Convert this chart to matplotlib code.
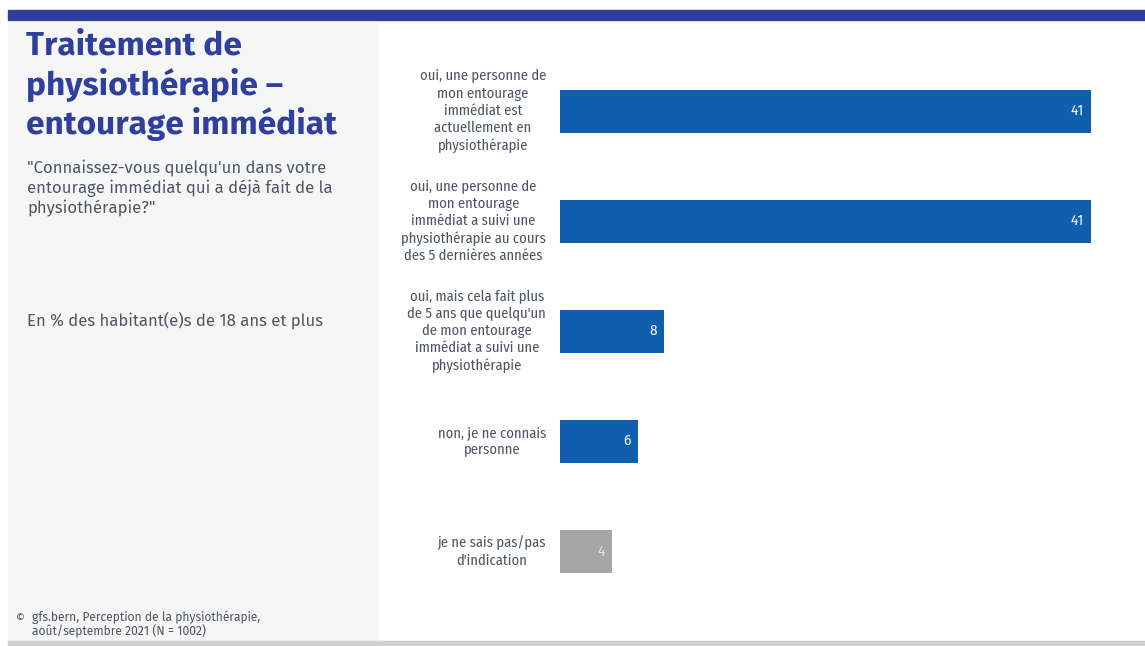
import matplotlib
matplotlib.use("Agg")
import matplotlib.pyplot as plt
from matplotlib import font_manager
from matplotlib.patches import Rectangle

# Survey answers and shares (%)
categories = [
    "oui, une personne de\nmon entourage\nimmédiat est\nactuellement en\nphysiothérapie",
    "oui, une personne de\nmon entourage\nimmédiat a suivi une\nphysiothérapie au cours\ndes 5 dernières années",
    "oui, mais cela fait plus\nde 5 ans que quelqu'un\nde mon entourage\nimmédiat a suivi une\nphysiothérapie",
    "non, je ne connais\npersonne",
    "je ne sais pas/pas\nd'indication",
]
values = [41, 41, 8, 6, 4]
value_labels = ["41", "41", "8", "6", "4"]
is_unknown = [False, False, False, False, True]

title = "Traitement de\nphysiothérapie –\nentourage immédiat"
question = "\"Connaissez-vous quelqu'un dans votre\nentourage immédiat qui a déjà fait de la\nphysiothérapie?\""
base = "En % des habitant(e)s de 18 ans et plus"
source = "gfs.bern, Perception de la physiothérapie,\naoût/septembre 2021 (N = 1002)"

available = {f.name for f in font_manager.fontManager.ttflist}
def pick(*names):
    for n in names:
        if n in available:
            return n
    return "DejaVu Sans"

body_font = pick("Fira Sans", "Noto Sans", "Open Sans", "DejaVu Sans")
narrow_font = pick("Fira Sans Condensed", "Roboto Condensed", "Liberation Sans Narrow", "Noto Sans")
title_font = pick("Fira Sans", "Noto Sans", "Lato", "DejaVu Sans")

W, H = 1145, 646
fig = plt.figure(figsize=(W / 100, H / 100), dpi=100)
fig.patch.set_facecolor("white")

def fx(px):
    return px / W

def fy(py):
    return 1 - py / H

# Page decoration: top rule, left info panel, bottom rule
fig.patches.append(Rectangle((fx(8), fy(20)), fx(W - 8), 10 / H,
                             transform=fig.transFigure, color="#2e3f9e", zorder=0))
fig.patches.append(Rectangle((fx(8), fy(640)), fx(370), 618 / H,
                             transform=fig.transFigure, color="#f6f6f6", zorder=0))
fig.patches.append(Rectangle((fx(8), 0), fx(W - 8), 5 / H,
                             transform=fig.transFigure, color="#d0d0d0", zorder=0))

text_grey = "#4b5563"
fig.text(fx(26), fy(30), title, ha="left", va="top", fontsize=24,
         fontweight="bold", color="#2e3f9e", family=title_font, linespacing=1.21)
fig.text(fx(27), fy(159), question, ha="left", va="top", fontsize=12,
         color=text_grey, family=body_font, linespacing=1.25)
fig.text(fx(27), fy(320), base, ha="left", va="center", fontsize=12,
         color=text_grey, family=body_font)
fig.text(fx(16), fy(618), "©", ha="left", va="center", fontsize=8,
         color=text_grey, family=body_font)
fig.text(fx(32), fy(611), source, ha="left", va="top", fontsize=8.7,
         color=text_grey, family=body_font, linespacing=1.0)

# Bar chart
ax_left, ax_right = 560, 560 + 45 * 12.95
ax_top, ax_bottom = 56, 606.5
ax = fig.add_axes([fx(ax_left), fy(ax_bottom), (ax_right - ax_left) / W,
                   (ax_bottom - ax_top) / H])
ax.set_facecolor("none")
ax.set_xlim(0, 45)
ax.set_ylim(len(values) - 0.5, -0.5)
ax.axis("off")

ypos = list(range(len(values)))
colors = ["#a6a6a6" if u else "#0f5fae" for u in is_unknown]
ax.barh(ypos, values, height=0.39, color=colors, edgecolor="none")

for y, v, lab, u in zip(ypos, values, value_labels, is_unknown):
    ax.annotate(lab, (v, y), xytext=(-5, 0), textcoords="offset points",
                ha="right", va="center", fontsize=10,
                color="#e4e4e4" if u else "white", family=body_font)

for y, cat in zip(ypos, categories):
    ax.annotate(cat, (0, y), xytext=(-10, 0), textcoords="offset points",
                ha="right", va="center", multialignment="center",
                fontsize=10.5, color=text_grey, family=narrow_font,
                linespacing=1.26, annotation_clip=False)

fig.savefig("out.png", dpi=100)
